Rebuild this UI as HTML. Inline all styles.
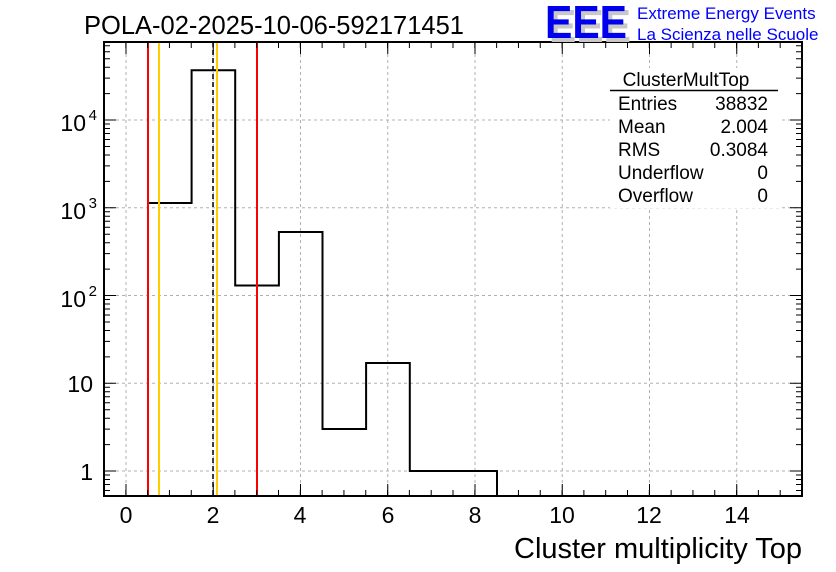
<!DOCTYPE html>
<html><head><style>body{margin:0;background:#fff}svg{display:block}text{font-family:"Liberation Sans",sans-serif}</style></head>
<body>
<svg width="836" height="572" viewBox="0 0 836 572" xmlns="http://www.w3.org/2000/svg">
<defs>
<clipPath id="c"><rect x="104" y="42" width="698" height="454"/></clipPath>
<g id="dl"><path d="M0 0h12M0 -26.4h6M0 -41.9h6M0 -52.8h6M0 -61.3h6M0 -68.3h6M0 -74.2h6M0 -79.2h6M0 -83.7h6" stroke="#000" stroke-width="1"/></g>
<g id="dr"><path d="M0 0h-12M0 -26.4h-6M0 -41.9h-6M0 -52.8h-6M0 -61.3h-6M0 -68.3h-6M0 -74.2h-6M0 -79.2h-6M0 -83.7h-6" stroke="#000" stroke-width="1"/></g>
</defs>
<rect width="836" height="572" fill="#fff"/>
<g stroke="#b0b0b0" stroke-dasharray="3 3" stroke-width="1">
<path d="M126 42V496M213.25 42V496M300.5 42V496M387.75 42V496M475 42V496M562.25 42V496M649.5 42V496M736.75 42V496"/>
<path d="M104 471H802M104 383.25H802M104 295.5H802M104 207.75H802M104 120H802"/>
</g>
<rect x="610" y="68" width="170" height="140" fill="#fff"/>
<text x="686" y="86" font-size="19" text-anchor="middle">ClusterMultTop</text>
<line x1="610" y1="90.5" x2="778" y2="90.5" stroke="#000" stroke-width="1.5"/>
<g font-size="19">
<text x="618" y="110">Entries</text><text x="768" y="110" text-anchor="end">38832</text>
<text x="618" y="133">Mean</text><text x="768" y="133" text-anchor="end">2.004</text>
<text x="618" y="156">RMS</text><text x="768" y="156" text-anchor="end">0.3084</text>
<text x="618" y="179">Underflow</text><text x="768" y="179" text-anchor="end">0</text>
<text x="618" y="202">Overflow</text><text x="768" y="202" text-anchor="end">0</text>
</g>
<g clip-path="url(#c)">
<path d="M148 496V203H191.6V70.2H235.2V285.5H278.9V232H322.5V429H366.1V363H409.8V471H497V496" fill="none" stroke="#000" stroke-width="2"/>
<line x1="148" y1="42" x2="148" y2="496" stroke="#f00" stroke-width="2"/>
<line x1="257" y1="42" x2="257" y2="496" stroke="#f00" stroke-width="2"/>
<line x1="159" y1="42" x2="159" y2="496" stroke="#fc0" stroke-width="2"/>
<line x1="217" y1="42" x2="217" y2="496" stroke="#fc0" stroke-width="2"/>
<line x1="213" y1="42" x2="213" y2="496" stroke="#000" stroke-width="1.5" stroke-dasharray="5 3"/>
<use href="#dl" x="104" y="558.75"/><use href="#dl" x="104" y="471"/><use href="#dl" x="104" y="383.25"/><use href="#dl" x="104" y="295.5"/><use href="#dl" x="104" y="207.75"/><use href="#dl" x="104" y="120"/><use href="#dl" x="104" y="32.25"/>
<use href="#dr" x="802" y="558.75"/><use href="#dr" x="802" y="471"/><use href="#dr" x="802" y="383.25"/><use href="#dr" x="802" y="295.5"/><use href="#dr" x="802" y="207.75"/><use href="#dr" x="802" y="120"/><use href="#dr" x="802" y="32.25"/>
</g>
<line x1="104" y1="493" x2="802" y2="493" stroke="#000" stroke-width="6" stroke-dasharray="1 20.8125" transform="translate(-0.5 0)"/>
<line x1="104" y1="45" x2="802" y2="45" stroke="#000" stroke-width="6" stroke-dasharray="1 20.8125" transform="translate(-0.5 0)"/>
<path d="M126 496v-12M213.25 496v-12M300.5 496v-12M387.75 496v-12M475 496v-12M562.25 496v-12M649.5 496v-12M736.75 496v-12M126 42v12M213.25 42v12M300.5 42v12M387.75 42v12M475 42v12M562.25 42v12M649.5 42v12M736.75 42v12" stroke="#000"/>
<rect x="104" y="42" width="698" height="454" fill="none" stroke="#000" stroke-width="2"/>
<g font-size="23" text-anchor="middle">
<text x="126" y="523">0</text><text x="213" y="523">2</text><text x="300" y="523">4</text><text x="388" y="523">6</text><text x="475" y="523">8</text><text x="562" y="523">10</text><text x="649" y="523">12</text><text x="737" y="523">14</text>
</g>
<g font-size="23" text-anchor="end">
<text x="93" y="480">1</text>
<text x="93" y="392">10</text>
<text x="86" y="307">10</text><text x="97" y="296" font-size="15">2</text>
<text x="86" y="219">10</text><text x="97" y="208" font-size="15">3</text>
<text x="86" y="131">10</text><text x="97" y="120" font-size="15">4</text>
</g>
<text x="802" y="558" font-size="29" text-anchor="end">Cluster multiplicity Top</text>
<text x="84" y="34" font-size="25.5">POLA-02-2025-10-06-592171451</text>
<g font-size="46" font-weight="bold">
<text x="549" y="42" fill="#c8c8c8" textLength="82" lengthAdjust="spacingAndGlyphs">EEE</text>
<text x="545" y="38" fill="#0000ee" textLength="82" lengthAdjust="spacingAndGlyphs">EEE</text>
</g>
<text x="637" y="19" font-size="17" fill="#0000ff">Extreme Energy Events</text>
<text x="637" y="40" font-size="17" fill="#0000ff">La Scienza nelle Scuole</text>
</svg>
</body></html>
